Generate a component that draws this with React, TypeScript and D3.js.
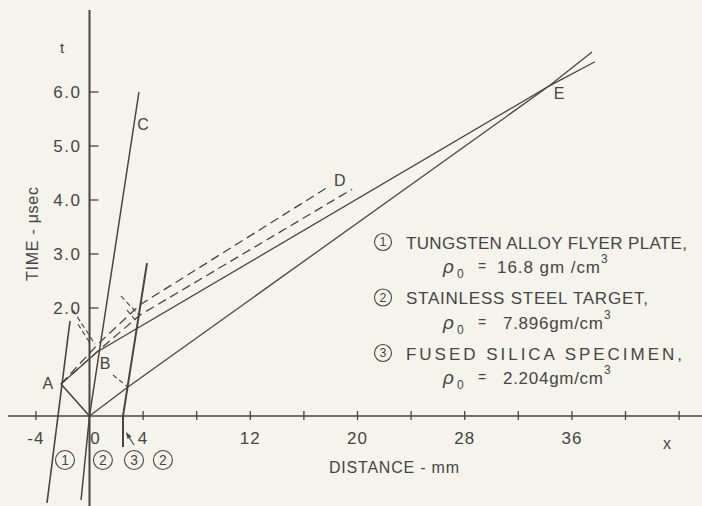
import React from "react"
import * as d3 from "d3"

// axis ticks
const xTicks = [-4, 0, 4, 8, 12, 16, 20, 24, 28, 32, 36, 40, 44]
const xTickLabels = [-4, 0, 4, 12, 20, 28, 36]
const tTicks = [2.0, 3.0, 4.0, 5.0, 6.0]

// wave paths in the x-t plane, [distance mm, time usec]
const flyerRear = [[-3.17, -1.61], [-1.455, 1.76]]
const impactFace = [[-0.63, -1.556], [0, 0], [3.69, 6.0]]
const specimenFace = [[2.5, -0.574], [2.5, 0], [4.29, 2.83]]
const reflectedOA = [[0, 0], [-2.13, 0.593]]
const rarefactionABE = [[-2.13, 0.593], [0.56, 1.185], [34.29, 6.11], [37.72, 6.56]]
const shockOE = [[0, 0], [2.87, 0.537], [34.29, 6.11], [37.5, 6.74]]
const dashedUpper = [[-2.13, 0.593], [0.71, 1.35], [3.77, 2.06], [17.8, 4.24]]
const dashedLower = [[-2.13, 0.593], [0.71, 1.22], [3.77, 1.87], [19.6, 4.2]]
const shortDashed = [
    [[-1.23, 1.96], [0.41, 1.33]],
    [[-0.86, 1.70], [0.04, 1.35]],
    [[2.35, 2.22], [3.77, 1.85]],
    [[2.8, 1.96], [3.54, 1.74]],
    [[1.75, 0.76], [2.87, 0.537]],
]

const points = [
    { name: "A", x: -2.13, t: 0.593, dx: -13, dy: 5 },
    { name: "B", x: 0.56, t: 1.185, dx: 8, dy: 17 },
    { name: "C", x: 3.69, t: 6.0, dx: 4, dy: 38 },
    { name: "D", x: 18.6, t: 4.3, dx: 1, dy: 2 },
    { name: "E", x: 34.29, t: 6.11, dx: 10, dy: 13 },
]

const legendRows = [
    { num: "1", name: "TUNGSTEN ALLOY FLYER PLATE,", nameLen: 281, rho: "16.8 gm /cm", rhoLen: 103, rhoX: 497 },
    { num: "2", name: "STAINLESS STEEL TARGET,", nameLen: 242, rho: "7.896gm/cm", rhoLen: 100, rhoX: 503 },
    { num: "3", name: "FUSED SILICA SPECIMEN,", nameLen: 276, rho: "2.204gm/cm", rhoLen: 100, rhoX: 503 },
]
const bottomMarks = [
    { num: "1", x: -1.83 },
    { num: "2", x: 1.0 },
    { num: "3", x: 3.32 },
    { num: "2", x: 5.48 },
]

const ink = "#454543"
const font = "'Liberation Sans', Arial, sans-serif"

function Circled({ cx, cy, num, r }: { cx: number; cy: number; num: string; r: number }) {
    return (
        <g>
            <circle cx={cx} cy={cy} r={r} fill="none" stroke={ink} strokeWidth={1.1} />
            <text x={cx} y={cy + r * 0.5} textAnchor="middle" fontSize={r * 1.45} fill={ink}>{num}</text>
        </g>
    )
}

export default function App() {
    const X = d3.scaleLinear().domain([0, 36]).range([89.5, 571.9])
    const T = d3.scaleLinear().domain([0, 6]).range([416, 92])
    const line = d3.line<number[]>().x(d => X(d[0])).y(d => T(d[1]))

    const x0 = X(0)
    const t0 = T(0)

    return (
        <svg width={702} height={506} style={{ position: "absolute", left: 0, top: 0 }} fontFamily={font}>
            <rect width={702} height={506} fill="#f5f4ec" />

            {/* axes */}
            <line x1={8} x2={702} y1={t0} y2={t0} stroke={ink} strokeWidth={1.6} />
            <line x1={x0} x2={x0} y1={T(7.52)} y2={506} stroke={ink} strokeWidth={2} />
            {xTicks.map(v => (
                <line key={v} x1={X(v)} x2={X(v)} y1={t0 - 5} y2={t0 + 4} stroke={ink} strokeWidth={1.3} />
            ))}
            {xTickLabels.map(v => (
                <text key={v} x={X(v) + (v === 0 ? 6 : 0)} y={t0 + 28} textAnchor="middle"
                    fontSize={17} letterSpacing={1} fill={ink}>
                    {v < 0 ? "-" + Math.abs(v) : v}
                </text>
            ))}
            {tTicks.map(v => (
                <g key={v}>
                    <line x1={x0} x2={x0 + 9} y1={T(v)} y2={T(v)} stroke={ink} strokeWidth={1.3} />
                    <text x={x0 - 8} y={T(v) + 6} textAnchor="end" fontSize={17} letterSpacing={1.5} fill={ink}>
                        {v.toFixed(1)}
                    </text>
                </g>
            ))}
            <text x={62} y={53} textAnchor="middle" fontSize={15} fill={ink}>t</text>
            <text x={667} y={449} textAnchor="middle" fontSize={16} fill={ink}>x</text>
            <text x={329} y={473} fontSize={16} textLength={130} lengthAdjust="spacing" fill={ink}>
                DISTANCE - mm
            </text>
            <text transform="translate(38,234) rotate(-90)" textAnchor="middle" fontSize={16} textLength={94}
                lengthAdjust="spacing" fill={ink}>
                TIME - μsec
            </text>

            {/* wave paths */}
            <g fill="none" stroke={ink} strokeWidth={1.3}>
                <path d={line(flyerRear) ?? ""} strokeWidth={1.6} />
                <path d={line(impactFace) ?? ""} strokeWidth={1.5} />
                <path d={line(specimenFace) ?? ""} strokeWidth={2} />
                <path d={line(reflectedOA) ?? ""} strokeWidth={1.6} />
                <path d={line(rarefactionABE) ?? ""} />
                <path d={line(shockOE) ?? ""} />
                <path d={line(dashedUpper) ?? ""} strokeDasharray="9,5" />
                <path d={line(dashedLower) ?? ""} strokeDasharray="9,5" />
                {shortDashed.map((s, i) => (
                    <path key={i} d={line(s) ?? ""} strokeDasharray="5,3" strokeWidth={1.1} />
                ))}
            </g>

            {/* arrow to specimen */}
            <line x1={134} y1={445} x2={127} y2={434} stroke={ink} strokeWidth={1.2} />
            <path d="M126,432 L131.5,436.5 L127.5,439 Z" fill={ink} />

            {points.map(p => (
                <text key={p.name} x={X(p.x) + p.dx} y={T(p.t) + p.dy} textAnchor="middle" fontSize={16} fill={ink}>
                    {p.name}
                </text>
            ))}

            {bottomMarks.map((m, i) => (
                <Circled key={i} cx={X(m.x)} cy={460} r={9.5} num={m.num} />
            ))}

            {/* legend */}
            {legendRows.map((r, i) => {
                const y = 242 + i * 55.5
                return (
                    <g key={i}>
                        <Circled cx={383} cy={y} r={8.5} num={r.num} />
                        <text x={406} y={y + 6.5} fontSize={17} textLength={r.nameLen} lengthAdjust="spacing" fill={ink}>
                            {r.name}
                        </text>
                        <text x={443} y={y + 31} fontSize={19} fontStyle="italic" fill={ink}>ρ</text>
                        <text x={457} y={y + 36} fontSize={12} fill={ink}>0</text>
                        <text x={478} y={y + 29} fontSize={14} fill={ink}>=</text>
                        <text x={r.rhoX} y={y + 31} fontSize={17} textLength={r.rhoLen} lengthAdjust="spacing" fill={ink}>
                            {r.rho}
                        </text>
                        <text x={r.rhoX + r.rhoLen + 1} y={y + 21} fontSize={12} fill={ink}>3</text>
                    </g>
                )
            })}
        </svg>
    )
}
